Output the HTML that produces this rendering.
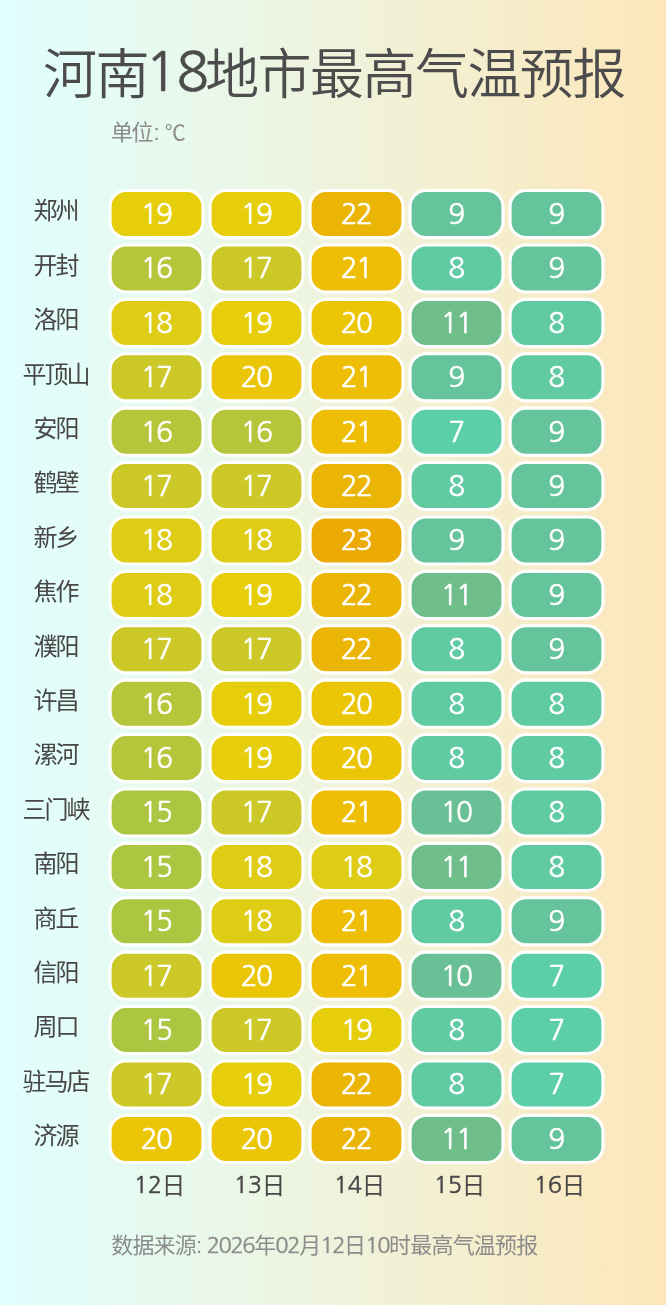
<!DOCTYPE html>
<html lang="zh-CN">
<head>
<meta charset="utf-8">
<title>河南18地市最高气温预报</title>
<style>
html,body{margin:0;padding:0;}
body{width:666px;height:1305px;overflow:hidden;background:linear-gradient(90deg,#e0ffff 0%,#fde7ba 100%);}
svg{display:block;font-family:"Liberation Sans","Noto Sans CJK SC",sans-serif;font-weight:350;}
.n,.v{font-family:"NanumGothic","Liberation Sans",sans-serif;font-weight:400;stroke-linejoin:miter;}
.t{font-size:54px;letter-spacing:-1.55px;fill:#4c4c4c;}
.t .n{font-size:53.5px;letter-spacing:-3.8px;stroke:#4c4c4c;stroke-width:.7px;}
.s{font-weight:400;font-size:22px;letter-spacing:-1.6px;fill:#8a8a8a;}
.c{font-weight:400;font-size:24px;letter-spacing:-2px;fill:#484646;text-anchor:middle;}
.v{font-size:28px;fill:#fff;text-anchor:middle;letter-spacing:-1.6px;stroke:#fff;stroke-width:.5px;}
.d{font-weight:400;font-size:23.5px;fill:#484646;text-anchor:middle;}
.d .n{font-size:23.6px;letter-spacing:-0.3px;stroke:#484646;stroke-width:.45px;}
.f{font-weight:400;font-size:22px;letter-spacing:-0.8px;fill:#8c8c8c;}
.f .n{font-size:22px;letter-spacing:-1.45px;stroke:#8c8c8c;stroke-width:.4px;}
rect{stroke:#fff;stroke-width:3.1;}
</style>
</head>
<body>
<svg width="666" height="1305" viewBox="0 0 666 1305">
<text class="t" x="43" y="94">河南<tspan class="n" dy="-3.1" dx="-2.6 2.6">18</tspan><tspan dy="3.1" dx="0">地市最高气温预报</tspan></text>
<text class="s" x="111" y="140.3">单位<tspan style="letter-spacing:0" dx="1.8">: </tspan><tspan dx="-1.1" style="font-size:21px">℃</tspan></text>
<g>
<text class="c" x="55.4" y="219.30">郑州</text>
<rect x="110.05" y="190.55" width="92.90" height="47.10" rx="16.0" fill="#e7ce0b"/><text class="v" x="156.00" y="224.00">19</text>
<rect x="210.05" y="190.55" width="92.90" height="47.10" rx="16.0" fill="#e7ce0b"/><text class="v" x="256.00" y="224.00">19</text>
<rect x="310.05" y="190.55" width="92.90" height="47.10" rx="16.0" fill="#ebb506"/><text class="v" x="356.00" y="224.00">22</text>
<rect x="410.05" y="190.55" width="92.90" height="47.10" rx="16.0" fill="#65c49c"/><text class="v" x="456.00" y="224.00">9</text>
<rect x="510.05" y="190.55" width="92.90" height="47.10" rx="16.0" fill="#65c49c"/><text class="v" x="556.00" y="224.00">9</text>
</g>
<g>
<text class="c" x="55.4" y="273.70">开封</text>
<rect x="110.05" y="244.95" width="92.90" height="47.10" rx="16.0" fill="#b6c63a"/><text class="v" x="156.00" y="278.40">16</text>
<rect x="210.05" y="244.95" width="92.90" height="47.10" rx="16.0" fill="#cbc828"/><text class="v" x="256.00" y="278.40">17</text>
<rect x="310.05" y="244.95" width="92.90" height="47.10" rx="16.0" fill="#edbe05"/><text class="v" x="356.00" y="278.40">21</text>
<rect x="410.05" y="244.95" width="92.90" height="47.10" rx="16.0" fill="#60caa3"/><text class="v" x="456.00" y="278.40">8</text>
<rect x="510.05" y="244.95" width="92.90" height="47.10" rx="16.0" fill="#65c49c"/><text class="v" x="556.00" y="278.40">9</text>
</g>
<g>
<text class="c" x="55.4" y="328.10">洛阳</text>
<rect x="110.05" y="299.35" width="92.90" height="47.10" rx="16.0" fill="#dfcc14"/><text class="v" x="156.00" y="332.80">18</text>
<rect x="210.05" y="299.35" width="92.90" height="47.10" rx="16.0" fill="#e7ce0b"/><text class="v" x="256.00" y="332.80">19</text>
<rect x="310.05" y="299.35" width="92.90" height="47.10" rx="16.0" fill="#ebc606"/><text class="v" x="356.00" y="332.80">20</text>
<rect x="410.05" y="299.35" width="92.90" height="47.10" rx="16.0" fill="#6fbd8b"/><text class="v" x="456.00" y="332.80">11</text>
<rect x="510.05" y="299.35" width="92.90" height="47.10" rx="16.0" fill="#60caa3"/><text class="v" x="556.00" y="332.80">8</text>
</g>
<g>
<text class="c" x="55.4" y="382.50">平顶山</text>
<rect x="110.05" y="353.75" width="92.90" height="47.10" rx="16.0" fill="#cbc828"/><text class="v" x="156.00" y="387.20">17</text>
<rect x="210.05" y="353.75" width="92.90" height="47.10" rx="16.0" fill="#ebc606"/><text class="v" x="256.00" y="387.20">20</text>
<rect x="310.05" y="353.75" width="92.90" height="47.10" rx="16.0" fill="#edbe05"/><text class="v" x="356.00" y="387.20">21</text>
<rect x="410.05" y="353.75" width="92.90" height="47.10" rx="16.0" fill="#65c49c"/><text class="v" x="456.00" y="387.20">9</text>
<rect x="510.05" y="353.75" width="92.90" height="47.10" rx="16.0" fill="#60caa3"/><text class="v" x="556.00" y="387.20">8</text>
</g>
<g>
<text class="c" x="55.4" y="436.90">安阳</text>
<rect x="110.05" y="408.15" width="92.90" height="47.10" rx="16.0" fill="#b6c63a"/><text class="v" x="156.00" y="441.60">16</text>
<rect x="210.05" y="408.15" width="92.90" height="47.10" rx="16.0" fill="#b6c63a"/><text class="v" x="256.00" y="441.60">16</text>
<rect x="310.05" y="408.15" width="92.90" height="47.10" rx="16.0" fill="#edbe05"/><text class="v" x="356.00" y="441.60">21</text>
<rect x="410.05" y="408.15" width="92.90" height="47.10" rx="16.0" fill="#5ccfa9"/><text class="v" x="456.00" y="441.60">7</text>
<rect x="510.05" y="408.15" width="92.90" height="47.10" rx="16.0" fill="#65c49c"/><text class="v" x="556.00" y="441.60">9</text>
</g>
<g>
<text class="c" x="55.4" y="491.30">鹤壁</text>
<rect x="110.05" y="462.55" width="92.90" height="47.10" rx="16.0" fill="#cbc828"/><text class="v" x="156.00" y="496.00">17</text>
<rect x="210.05" y="462.55" width="92.90" height="47.10" rx="16.0" fill="#cbc828"/><text class="v" x="256.00" y="496.00">17</text>
<rect x="310.05" y="462.55" width="92.90" height="47.10" rx="16.0" fill="#ebb506"/><text class="v" x="356.00" y="496.00">22</text>
<rect x="410.05" y="462.55" width="92.90" height="47.10" rx="16.0" fill="#60caa3"/><text class="v" x="456.00" y="496.00">8</text>
<rect x="510.05" y="462.55" width="92.90" height="47.10" rx="16.0" fill="#65c49c"/><text class="v" x="556.00" y="496.00">9</text>
</g>
<g>
<text class="c" x="55.4" y="545.70">新乡</text>
<rect x="110.05" y="516.95" width="92.90" height="47.10" rx="16.0" fill="#dfcc14"/><text class="v" x="156.00" y="550.40">18</text>
<rect x="210.05" y="516.95" width="92.90" height="47.10" rx="16.0" fill="#dfcc14"/><text class="v" x="256.00" y="550.40">18</text>
<rect x="310.05" y="516.95" width="92.90" height="47.10" rx="16.0" fill="#ebaa04"/><text class="v" x="356.00" y="550.40">23</text>
<rect x="410.05" y="516.95" width="92.90" height="47.10" rx="16.0" fill="#65c49c"/><text class="v" x="456.00" y="550.40">9</text>
<rect x="510.05" y="516.95" width="92.90" height="47.10" rx="16.0" fill="#65c49c"/><text class="v" x="556.00" y="550.40">9</text>
</g>
<g>
<text class="c" x="55.4" y="600.10">焦作</text>
<rect x="110.05" y="571.35" width="92.90" height="47.10" rx="16.0" fill="#dfcc14"/><text class="v" x="156.00" y="604.80">18</text>
<rect x="210.05" y="571.35" width="92.90" height="47.10" rx="16.0" fill="#e7ce0b"/><text class="v" x="256.00" y="604.80">19</text>
<rect x="310.05" y="571.35" width="92.90" height="47.10" rx="16.0" fill="#ebb506"/><text class="v" x="356.00" y="604.80">22</text>
<rect x="410.05" y="571.35" width="92.90" height="47.10" rx="16.0" fill="#6fbd8b"/><text class="v" x="456.00" y="604.80">11</text>
<rect x="510.05" y="571.35" width="92.90" height="47.10" rx="16.0" fill="#65c49c"/><text class="v" x="556.00" y="604.80">9</text>
</g>
<g>
<text class="c" x="55.4" y="654.50">濮阳</text>
<rect x="110.05" y="625.75" width="92.90" height="47.10" rx="16.0" fill="#cbc828"/><text class="v" x="156.00" y="659.20">17</text>
<rect x="210.05" y="625.75" width="92.90" height="47.10" rx="16.0" fill="#cbc828"/><text class="v" x="256.00" y="659.20">17</text>
<rect x="310.05" y="625.75" width="92.90" height="47.10" rx="16.0" fill="#ebb506"/><text class="v" x="356.00" y="659.20">22</text>
<rect x="410.05" y="625.75" width="92.90" height="47.10" rx="16.0" fill="#60caa3"/><text class="v" x="456.00" y="659.20">8</text>
<rect x="510.05" y="625.75" width="92.90" height="47.10" rx="16.0" fill="#65c49c"/><text class="v" x="556.00" y="659.20">9</text>
</g>
<g>
<text class="c" x="55.4" y="708.90">许昌</text>
<rect x="110.05" y="680.15" width="92.90" height="47.10" rx="16.0" fill="#b6c63a"/><text class="v" x="156.00" y="713.60">16</text>
<rect x="210.05" y="680.15" width="92.90" height="47.10" rx="16.0" fill="#e7ce0b"/><text class="v" x="256.00" y="713.60">19</text>
<rect x="310.05" y="680.15" width="92.90" height="47.10" rx="16.0" fill="#ebc606"/><text class="v" x="356.00" y="713.60">20</text>
<rect x="410.05" y="680.15" width="92.90" height="47.10" rx="16.0" fill="#60caa3"/><text class="v" x="456.00" y="713.60">8</text>
<rect x="510.05" y="680.15" width="92.90" height="47.10" rx="16.0" fill="#60caa3"/><text class="v" x="556.00" y="713.60">8</text>
</g>
<g>
<text class="c" x="55.4" y="763.30">漯河</text>
<rect x="110.05" y="734.55" width="92.90" height="47.10" rx="16.0" fill="#b6c63a"/><text class="v" x="156.00" y="768.00">16</text>
<rect x="210.05" y="734.55" width="92.90" height="47.10" rx="16.0" fill="#e7ce0b"/><text class="v" x="256.00" y="768.00">19</text>
<rect x="310.05" y="734.55" width="92.90" height="47.10" rx="16.0" fill="#ebc606"/><text class="v" x="356.00" y="768.00">20</text>
<rect x="410.05" y="734.55" width="92.90" height="47.10" rx="16.0" fill="#60caa3"/><text class="v" x="456.00" y="768.00">8</text>
<rect x="510.05" y="734.55" width="92.90" height="47.10" rx="16.0" fill="#60caa3"/><text class="v" x="556.00" y="768.00">8</text>
</g>
<g>
<text class="c" x="55.4" y="817.70">三门峡</text>
<rect x="110.05" y="788.95" width="92.90" height="47.10" rx="16.0" fill="#adc641"/><text class="v" x="156.00" y="822.40">15</text>
<rect x="210.05" y="788.95" width="92.90" height="47.10" rx="16.0" fill="#cbc828"/><text class="v" x="256.00" y="822.40">17</text>
<rect x="310.05" y="788.95" width="92.90" height="47.10" rx="16.0" fill="#edbe05"/><text class="v" x="356.00" y="822.40">21</text>
<rect x="410.05" y="788.95" width="92.90" height="47.10" rx="16.0" fill="#6ac096"/><text class="v" x="456.00" y="822.40">10</text>
<rect x="510.05" y="788.95" width="92.90" height="47.10" rx="16.0" fill="#60caa3"/><text class="v" x="556.00" y="822.40">8</text>
</g>
<g>
<text class="c" x="55.4" y="872.10">南阳</text>
<rect x="110.05" y="843.35" width="92.90" height="47.10" rx="16.0" fill="#adc641"/><text class="v" x="156.00" y="876.80">15</text>
<rect x="210.05" y="843.35" width="92.90" height="47.10" rx="16.0" fill="#dfcc14"/><text class="v" x="256.00" y="876.80">18</text>
<rect x="310.05" y="843.35" width="92.90" height="47.10" rx="16.0" fill="#dfcc14"/><text class="v" x="356.00" y="876.80">18</text>
<rect x="410.05" y="843.35" width="92.90" height="47.10" rx="16.0" fill="#6fbd8b"/><text class="v" x="456.00" y="876.80">11</text>
<rect x="510.05" y="843.35" width="92.90" height="47.10" rx="16.0" fill="#60caa3"/><text class="v" x="556.00" y="876.80">8</text>
</g>
<g>
<text class="c" x="55.4" y="926.50">商丘</text>
<rect x="110.05" y="897.75" width="92.90" height="47.10" rx="16.0" fill="#adc641"/><text class="v" x="156.00" y="931.20">15</text>
<rect x="210.05" y="897.75" width="92.90" height="47.10" rx="16.0" fill="#dfcc14"/><text class="v" x="256.00" y="931.20">18</text>
<rect x="310.05" y="897.75" width="92.90" height="47.10" rx="16.0" fill="#edbe05"/><text class="v" x="356.00" y="931.20">21</text>
<rect x="410.05" y="897.75" width="92.90" height="47.10" rx="16.0" fill="#60caa3"/><text class="v" x="456.00" y="931.20">8</text>
<rect x="510.05" y="897.75" width="92.90" height="47.10" rx="16.0" fill="#65c49c"/><text class="v" x="556.00" y="931.20">9</text>
</g>
<g>
<text class="c" x="55.4" y="980.90">信阳</text>
<rect x="110.05" y="952.15" width="92.90" height="47.10" rx="16.0" fill="#cbc828"/><text class="v" x="156.00" y="985.60">17</text>
<rect x="210.05" y="952.15" width="92.90" height="47.10" rx="16.0" fill="#ebc606"/><text class="v" x="256.00" y="985.60">20</text>
<rect x="310.05" y="952.15" width="92.90" height="47.10" rx="16.0" fill="#edbe05"/><text class="v" x="356.00" y="985.60">21</text>
<rect x="410.05" y="952.15" width="92.90" height="47.10" rx="16.0" fill="#6ac096"/><text class="v" x="456.00" y="985.60">10</text>
<rect x="510.05" y="952.15" width="92.90" height="47.10" rx="16.0" fill="#5ccfa9"/><text class="v" x="556.00" y="985.60">7</text>
</g>
<g>
<text class="c" x="55.4" y="1035.30">周口</text>
<rect x="110.05" y="1006.55" width="92.90" height="47.10" rx="16.0" fill="#adc641"/><text class="v" x="156.00" y="1040.00">15</text>
<rect x="210.05" y="1006.55" width="92.90" height="47.10" rx="16.0" fill="#cbc828"/><text class="v" x="256.00" y="1040.00">17</text>
<rect x="310.05" y="1006.55" width="92.90" height="47.10" rx="16.0" fill="#e7ce0b"/><text class="v" x="356.00" y="1040.00">19</text>
<rect x="410.05" y="1006.55" width="92.90" height="47.10" rx="16.0" fill="#60caa3"/><text class="v" x="456.00" y="1040.00">8</text>
<rect x="510.05" y="1006.55" width="92.90" height="47.10" rx="16.0" fill="#5ccfa9"/><text class="v" x="556.00" y="1040.00">7</text>
</g>
<g>
<text class="c" x="55.4" y="1089.70">驻马店</text>
<rect x="110.05" y="1060.95" width="92.90" height="47.10" rx="16.0" fill="#cbc828"/><text class="v" x="156.00" y="1094.40">17</text>
<rect x="210.05" y="1060.95" width="92.90" height="47.10" rx="16.0" fill="#e7ce0b"/><text class="v" x="256.00" y="1094.40">19</text>
<rect x="310.05" y="1060.95" width="92.90" height="47.10" rx="16.0" fill="#ebb506"/><text class="v" x="356.00" y="1094.40">22</text>
<rect x="410.05" y="1060.95" width="92.90" height="47.10" rx="16.0" fill="#60caa3"/><text class="v" x="456.00" y="1094.40">8</text>
<rect x="510.05" y="1060.95" width="92.90" height="47.10" rx="16.0" fill="#5ccfa9"/><text class="v" x="556.00" y="1094.40">7</text>
</g>
<g>
<text class="c" x="55.4" y="1144.10">济源</text>
<rect x="110.05" y="1115.35" width="92.90" height="47.10" rx="16.0" fill="#ebc606"/><text class="v" x="156.00" y="1148.80">20</text>
<rect x="210.05" y="1115.35" width="92.90" height="47.10" rx="16.0" fill="#ebc606"/><text class="v" x="256.00" y="1148.80">20</text>
<rect x="310.05" y="1115.35" width="92.90" height="47.10" rx="16.0" fill="#ebb506"/><text class="v" x="356.00" y="1148.80">22</text>
<rect x="410.05" y="1115.35" width="92.90" height="47.10" rx="16.0" fill="#6fbd8b"/><text class="v" x="456.00" y="1148.80">11</text>
<rect x="510.05" y="1115.35" width="92.90" height="47.10" rx="16.0" fill="#65c49c"/><text class="v" x="556.00" y="1148.80">9</text>
</g>
<text class="d" x="159.40" y="1193.8"><tspan class="n" dy="-0.8">12</tspan><tspan dy="0.8">日</tspan></text>
<text class="d" x="259.40" y="1193.8"><tspan class="n" dy="-0.8">13</tspan><tspan dy="0.8">日</tspan></text>
<text class="d" x="359.40" y="1193.8"><tspan class="n" dy="-0.8">14</tspan><tspan dy="0.8">日</tspan></text>
<text class="d" x="459.40" y="1193.8"><tspan class="n" dy="-0.8">15</tspan><tspan dy="0.8">日</tspan></text>
<text class="d" x="559.40" y="1193.8"><tspan class="n" dy="-0.8">16</tspan><tspan dy="0.8">日</tspan></text>
<text class="f" x="111.2" y="1253">数据来源: <tspan class="n">2026</tspan>年<tspan class="n">02</tspan>月<tspan class="n">12</tspan>日<tspan class="n">10</tspan>时最高气温预报</text>
</svg>
</body>
</html>
